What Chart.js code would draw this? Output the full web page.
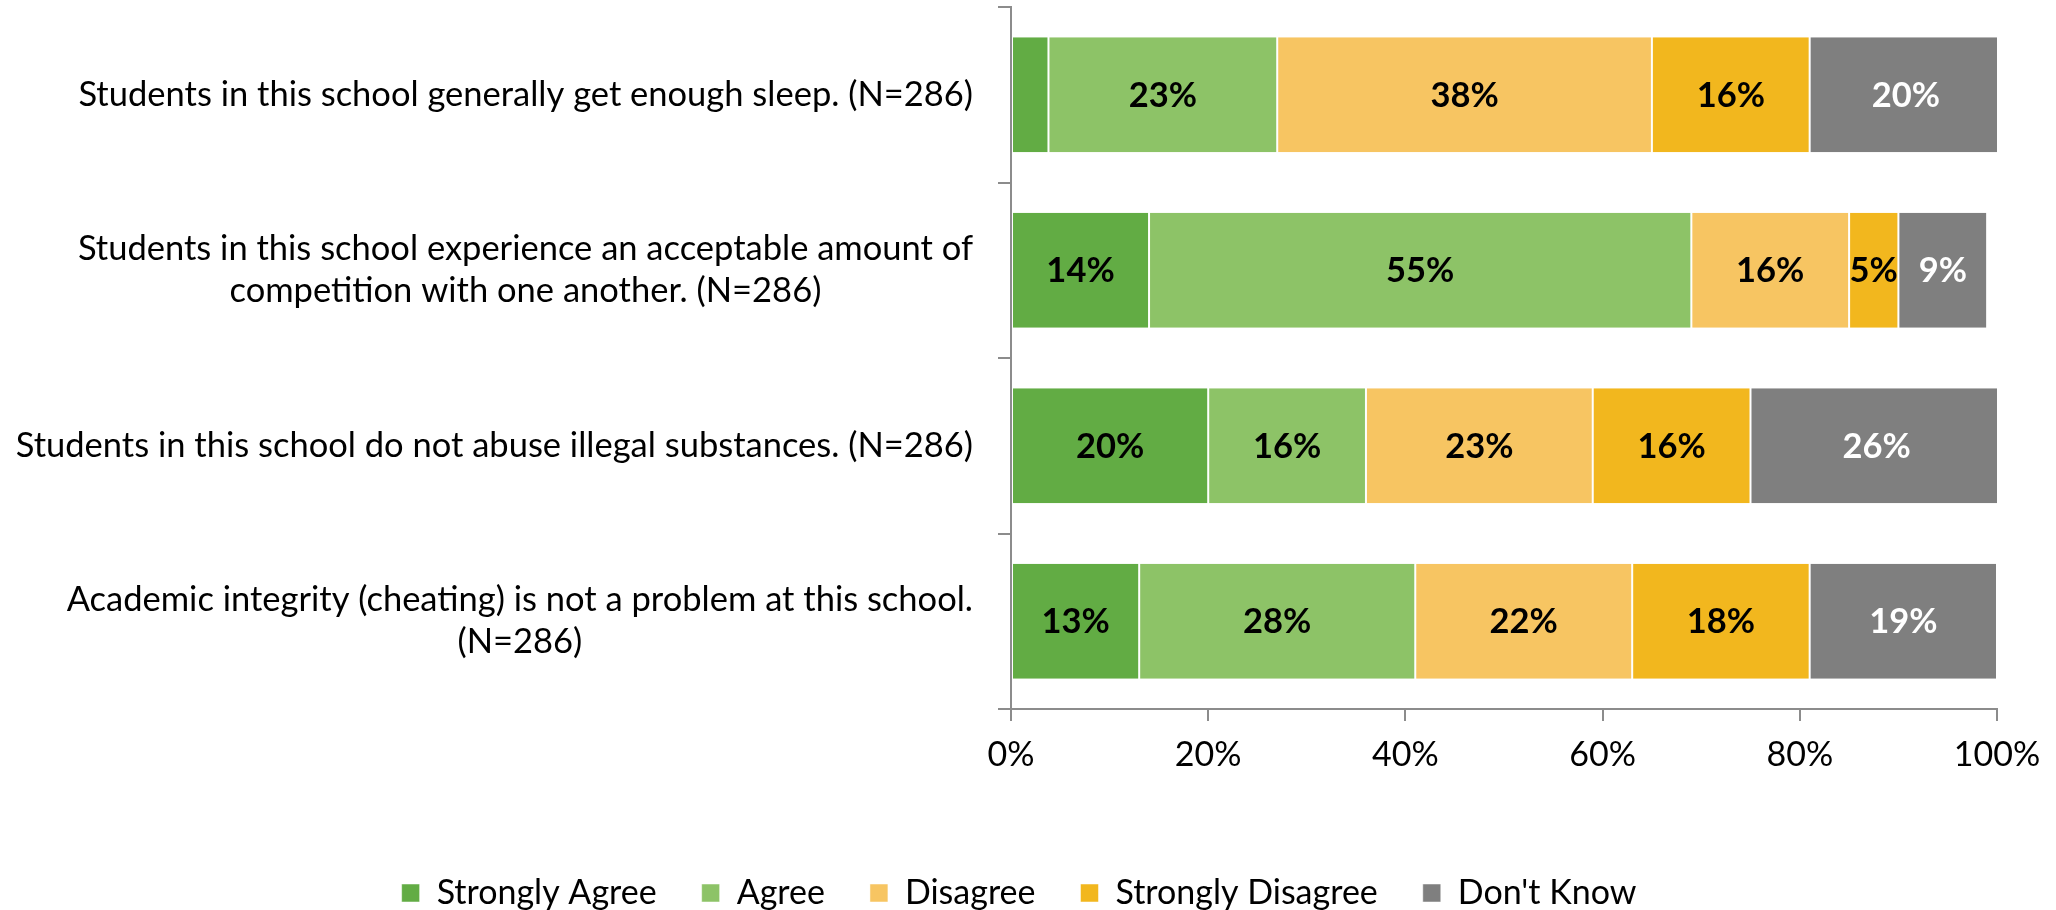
<!DOCTYPE html>
<html>
<head>
<meta charset="utf-8">
<script src="https://cdn.jsdelivr.net/npm/chart.js@4.4.1/dist/chart.umd.min.js"></script>
<style>
  html, body { margin: 0; padding: 0; background: #fff; overflow: hidden; }
  #caja { width: 2056px; height: 920px; }
</style>
</head>
<body>
<div id="caja"><canvas id="grafico" width="2056" height="920"></canvas></div>
<script>
// Datos
const preguntas = [
    ['Students in this school generally get enough sleep. (N=286)'],
    ['Students in this school experience an acceptable amount of', 'competition with one another. (N=286)'],
    ['Students in this school do not abuse illegal substances. (N=286)'],
    ['Academic integrity (cheating) is not a problem at this school.', '(N=286)']
];
const respuestas = ['Strongly Agree', 'Agree', 'Disagree', 'Strongly Disagree', "Don't Know"];
const muyDeAcuerdo = [3.8, 14, 20, 13];
const deAcuerdo = [23.2, 55, 16, 28];
const desacuerdo = [38, 16, 23, 22];
const muyDesacuerdo = [16, 5, 16, 18];
const noSabe = [19.5, 9, 25.6, 19];
const marcasX = [0, 20, 40, 60, 80, 100];

const colores = ['#62ac44', '#8dc367', '#f7c562', '#f2b71e', '#7f7f7f'];
const colorEtiqueta = ['#000', '#000', '#000', '#000', '#fff'];
const gris = '#8c8c8c';
const fuente = 'Lato, "Open Sans", sans-serif';

const series = [muyDeAcuerdo, deAcuerdo, desacuerdo, muyDesacuerdo, noSabe];

const datasets = series.map(function (valores, i) {
    return {
        label: respuestas[i],
        data: valores,
        backgroundColor: colores[i],
        borderColor: '#ffffff',
        borderWidth: { left: 1, right: 1, top: 0, bottom: 0 },
        borderSkipped: false,
        barPercentage: 0.655,
        categoryPercentage: 1
    };
});

// etiquetas de categoria centradas por linea, alineadas a la derecha
const textoCategorias = {
    id: 'textoCategorias',
    afterDraw: function (chart) {
        const ctx = chart.ctx;
        const eje = chart.scales.y;
        const derecha = chart.chartArea.left - 38;
        const alto = 42;
        ctx.save();
        ctx.font = '34.5px ' + fuente;
        ctx.fillStyle = '#000';
        ctx.textAlign = 'center';
        ctx.textBaseline = 'middle';
        preguntas.forEach(function (lineas, i) {
            let ancho = 0;
            lineas.forEach(function (l) { ancho = Math.max(ancho, ctx.measureText(l).width); });
            const cx = derecha - ancho / 2;
            const cy = eje.getPixelForValue(i);
            lineas.forEach(function (l, j) {
                ctx.fillText(l, cx, cy + (j - (lineas.length - 1) / 2) * alto);
            });
        });
        ctx.restore();
    }
};

// porcentajes dentro de las barras
const textoBarras = {
    id: 'textoBarras',
    afterDatasetsDraw: function (chart) {
        const ctx = chart.ctx;
        ctx.save();
        ctx.font = 'bold 34.5px ' + fuente;
        ctx.textAlign = 'center';
        ctx.textBaseline = 'middle';
        chart.data.datasets.forEach(function (ds, i) {
            const meta = chart.getDatasetMeta(i);
            meta.data.forEach(function (barra, j) {
                const v = ds.data[j];
                if (v < 4.5) return;
                ctx.fillStyle = colorEtiqueta[i];
                ctx.fillText(Math.round(v) + '%', (barra.x + barra.base) / 2, barra.y + 1);
            });
        });
        ctx.restore();
    }
};

const graph = document.querySelector('#grafico');

new Chart(graph, {
    type: 'bar',
    data: {
        labels: preguntas.map(function (p) { return p.join(' '); }),
        datasets: datasets
    },
    options: {
        indexAxis: 'y',
        responsive: false,
        animation: false,
        devicePixelRatio: 1,
        layout: { padding: { top: 7, left: 41, right: 59, bottom: 0 } },
        scales: {
            x: {
                stacked: true,
                min: 0,
                max: 100,
                afterBuildTicks: function (eje) {
                    eje.ticks = marcasX.map(function (v) { return { value: v }; });
                },
                afterFit: function (eje) { eje.height = 122; },
                ticks: {
                    callback: function (v) { return v + '%'; },
                    color: '#000',
                    font: { family: fuente, size: 34 },
                    padding: 14,
                    maxRotation: 0
                },
                grid: { drawOnChartArea: false, color: gris, lineWidth: 2, tickLength: 12 },
                border: { display: true, color: gris, width: 2 }
            },
            y: {
                stacked: true,
                afterFit: function (eje) { eje.width = 970; },
                ticks: { display: false },
                grid: { drawOnChartArea: false, color: gris, lineWidth: 2, tickLength: 13, offset: true },
                border: { display: true, color: gris, width: 2 }
            }
        },
        plugins: {
            legend: {
                position: 'bottom',
                labels: {
                    boxWidth: 18,
                    boxHeight: 18,
                    padding: 45,
                    color: '#000',
                    font: { family: fuente, size: 34 }
                }
            },
            tooltip: { enabled: false }
        }
    },
    plugins: [textoCategorias, textoBarras]
});
</script>
</body>
</html>
